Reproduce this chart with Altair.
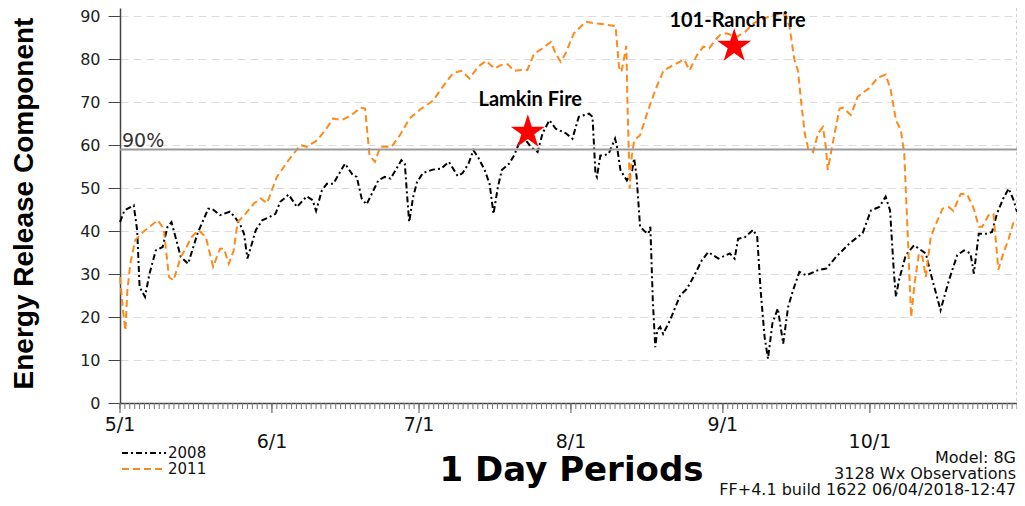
import altair as alt
import pandas as pd

# ---------------- data ----------------
days_2008 = [0, 0.9, 2.8, 3.5, 4.0, 5.1, 6.0, 7.3, 8.7, 9.7, 10.5, 12.4, 13.9, 15.8, 18.0, 18.8,
             20.4, 22.4, 23.4, 24.6, 25.3, 26.0, 26.7, 27.7, 29.0, 30.2, 31.7, 32.7, 34.4, 36.1,
             38.1, 39.3, 40.0, 41.2, 42.2, 43.5, 45.9, 47.5, 48.3, 49.3, 50.3, 52.7, 54.0, 55.2,
             56.4, 57.4, 58.1, 58.6, 59.0, 59.8, 60.6, 61.8, 63.8, 65.5, 67.1, 68.9, 69.9, 71.1,
             72.1, 73.0, 74.4, 75.4, 76.2, 77.1, 77.9, 79.4, 80.4, 81.5, 82.8, 83.8, 85.2, 86.2,
             87.6, 88.9, 90.9, 92.3, 93.6, 95.7, 96.4, 97.0, 97.3, 98.0, 98.7, 99.7, 101.0, 101.4,
             102.1, 103.4, 104.5, 104.9, 105.4, 106.1, 107.2, 107.8, 108.2, 108.7, 109.2, 109.6,
             110.2, 110.8, 112.2, 114.3, 115.6, 117.0, 118.7, 120.0, 121.0, 122.1, 124.4, 125.4,
             126.1, 127.5, 129.2, 130.0, 130.7, 131.5, 132.2, 133.1, 134.2, 135.3, 136.3, 137.3,
             138.6, 140.0, 142.4, 144.1, 146.1, 148.8, 151.5, 153.2, 154.9, 156.2, 157.1, 157.9,
             158.3, 158.9, 160.3, 162.0, 163.0, 164.4, 165.4, 167.4, 169.1, 170.8, 172.2, 173.5,
             174.2, 175.2, 176.9, 177.9, 178.9, 180.2, 181.3, 182.3, 183.0]
erc_2008 = [42.1, 44.8, 46.0, 40.2, 27.0, 24.7, 30.0, 35.5, 36.3, 41.0, 42.1, 34.0, 32.4, 39.4, 45.2, 45.2,
            43.7, 44.5, 43.3, 41.3, 39.4, 33.6, 36.3, 40.2, 42.5, 43.1, 44.0, 46.8, 48.5, 45.6,
            48.1, 47.2, 44.7, 49.5, 51.0, 51.0, 55.7, 53.0, 52.6, 47.6, 46.2, 51.8, 52.6, 52.2,
            54.5, 56.5, 55.7, 47.9, 42.1, 47.9, 51.4, 53.5, 54.3, 54.5, 56.1, 52.8, 53.5, 55.7,
            58.8, 57.3, 54.2, 51.0, 44.0, 50.3, 54.2, 55.7, 57.6, 60.7, 61.1, 59.6, 58.4, 62.7,
            65.8, 63.8, 62.8, 61.5, 66.6, 67.3, 66.6, 53.4, 52.6, 57.6, 57.6, 58.0, 61.5, 59.6,
            54.2, 51.8, 54.2, 56.9, 52.6, 41.0, 39.8, 39.4, 41.0, 23.9, 13.0, 16.9,
            17.7, 16.1, 19.2, 25.1, 26.5, 29.3, 33.2, 35.1, 34.4, 33.6, 34.8, 33.6,
            38.2, 38.6, 40.3, 38.6, 26.2, 15.4, 10.3, 18.5, 22.0, 13.8, 22.3, 26.2,
            30.5, 29.7, 30.9, 31.3, 34.0, 37.1, 39.5, 44.8, 45.6, 48.0, 44.8, 30.1,
            24.7, 28.5, 34.4, 36.7, 35.9, 34.8, 30.1, 21.6, 28.5, 34.4, 35.5, 34.8,
            30.1, 39.4, 39.4, 39.8, 44.0, 47.6, 49.9, 47.2, 44.5]

days_2011 = [0, 0.6, 1.1, 1.5, 2.1, 3.1, 4.3, 6.0, 7.7, 8.9, 10.0, 10.9, 12.4, 13.2, 14.6, 16.0,
             17.5, 19.0, 20.4, 21.2, 22.2, 23.2, 24.0, 25.6, 27.3, 28.7, 30.0, 32.0, 34.4, 36.8,
             38.1, 40.2, 41.9, 43.5, 45.2, 47.3, 49.0, 50.0, 50.9, 52.0, 53.1, 55.4, 57.1, 59.1,
             60.6, 61.5, 63.9, 65.6, 67.9, 69.6, 71.3, 73.0, 74.7, 76.4, 77.7, 79.1, 80.4, 81.8,
             83.1, 84.5, 85.8, 87.9, 88.9, 89.9, 90.9, 92.6, 95.0, 96.7, 98.7, 101.1, 101.8, 102.3,
             102.8, 103.3, 103.5, 104.0, 104.4, 104.9, 106.1, 107.5, 109.2, 110.9, 112.9, 115.1,
             116.2, 117.7, 119.0, 120.2, 121.4, 122.4, 123.7, 125.8, 127.5, 129.2, 131.2, 133.2,
             134.9, 135.9, 136.6, 137.6, 138.3, 139.0, 139.7, 140.4, 141.4, 142.4, 143.4, 144.0,
             144.4, 145.4, 146.8, 147.5, 149.1, 150.5, 151.8, 152.8, 154.6, 156.2, 157.2, 158.3,
             159.3, 160.0, 160.7, 161.4, 162.1, 163.0, 163.7, 164.4, 165.4, 166.4, 167.8, 169.1,
             170.0, 171.5, 172.8, 174.2, 175.2, 175.9, 177.2, 178.2, 179.2, 180.2, 181.3, 182.3,
             183.0]
erc_2011 = [29.3, 21.6, 16.9, 26.2, 32.4, 37.9, 39.4, 41.0, 42.5, 40.6, 29.3, 28.5, 34.0, 35.5, 38.6, 40.2,
            38.6, 31.7, 35.9, 35.9, 32.4, 35.5, 42.1, 44.0, 46.4, 47.6, 46.5, 52.6, 56.5, 60.0,
            59.6, 61.1, 63.5, 66.2, 65.8, 67.0, 68.7, 68.5, 57.6, 56.1, 59.6, 59.6, 62.3, 66.2,
            67.7, 68.5, 70.4, 73.2, 76.7, 77.3, 75.5, 78.2, 79.6, 77.8, 78.6, 78.8, 77.3, 77.5,
            77.5, 81.3, 82.2, 84.0, 81.3, 79.4, 81.3, 86.0, 88.7, 88.4, 88.1, 87.7, 78.2, 77.0,
            80.0, 83.1, 71.2, 49.9, 57.3, 61.1, 62.3, 67.3, 72.8, 77.4, 78.6, 79.9,
            77.4, 80.9, 82.9, 82.5, 84.4, 85.6, 86.0, 85.2, 86.3, 88.3, 89.4, 90.2,
            90.6, 90.2, 87.5, 79.8, 77.4, 69.7, 62.7, 59.2, 58.4, 62.7, 64.2, 59.6,
            54.2, 60.4, 68.5, 68.7, 67.0, 71.2, 72.4, 73.2, 75.7, 76.4, 73.0, 65.8,
            63.5, 58.0, 39.4, 20.0, 27.8, 34.8, 34.0, 29.3, 38.6, 41.5, 45.2, 45.6,
            44.7, 48.6, 48.6, 45.2, 41.0, 41.0, 43.7, 44.0, 31.0, 34.8, 38.2, 42.1,
            42.5]

years = ["2008", "2011"]
line_colors = ["#000000", "#ff8a1c"]
line_dashes = [[6, 3, 2, 3], [7, 4]]
month_days = [0, 31, 61, 92, 123, 153]
month_labels = ["5/1", "6/1", "7/1", "8/1", "9/1", "10/1"]
last_day = 183
all_days = list(range(last_day + 1))
y_ticks = [0, 10, 20, 30, 40, 50, 60, 70, 80, 90]
threshold = [59]
threshold_label = "90%"
fire_names = ["Lamkin Fire", "101-Ranch Fire"]
fire_days = [83.2, 125.3]
fire_erc = [63.0, 83.0]
fire_label_days = [83.7, 126.0]
fire_label_erc = [70.4, 88.8]
info_lines = ["Model: 8G", "3128 Wx Observations", "FF+4.1 build 1622 06/04/2018-12:47"]

# ---------------- tables ----------------
lines_df = pd.concat([
    pd.DataFrame({"day": days_2008, "erc": erc_2008, "year": years[0]}),
    pd.DataFrame({"day": days_2011, "erc": erc_2011, "year": years[1]}),
])
thr_df = pd.DataFrame({"erc": threshold, "label": [threshold_label]})
stars_df = pd.DataFrame({"day": fire_days, "erc": fire_erc})
labels_df = pd.DataFrame({"day": fire_label_days, "erc": fire_label_erc, "name": fire_names})
months_df = pd.DataFrame({"day": month_days, "label": month_labels,
                          "row": [i % 2 for i in range(len(month_days))]})
days_df = pd.DataFrame({"day": all_days})

W, H = 897, 395
xscale = alt.Scale(domain=[0, last_day], nice=False, zero=False)
yscale = alt.Scale(domain=[0, 91.9], nice=False)
cscale = alt.Scale(domain=years, range=line_colors)
dscale = alt.Scale(domain=years, range=line_dashes)

lines = alt.Chart(lines_df).mark_line(strokeWidth=2).encode(
    x=alt.X("day:Q", scale=xscale, axis=alt.Axis(
        ticks=False, labels=False, domainColor="#444", domainWidth=1.5, grid=False,
        title="1 Day Periods", titleFont="DejaVu Sans", titleFontSize=34, titleFontWeight="bold",
        titleColor="#000", titleX=451, titleY=67, titleAlign="center", titleBaseline="middle")),
    y=alt.Y("erc:Q", scale=yscale, axis=alt.Axis(
        values=y_ticks, tickSize=12, tickColor="#444", domainColor="#444", domainWidth=1.5,
        labelFont="DejaVu Sans", labelFontSize=16, labelColor="#222", labelPadding=8,
        grid=True, gridColor="#dcdcdc", gridDash=[8, 5], gridWidth=1,
        title="Energy Release Component", titleFont="Liberation Sans", titleFontSize=28,
        titleFontWeight="bold", titleColor="#000", titleAngle=270, titleX=-96, titleY=195,
        titleAlign="center", titleBaseline="middle")),
    color=alt.Color("year:N", scale=cscale, legend=None),
    strokeDash=alt.StrokeDash("year:N", scale=dscale, legend=None),
)

thr_rule = alt.Chart(thr_df).mark_rule(color="#9a9a9a", strokeWidth=2).encode(
    y=alt.Y("erc:Q"))
thr_text = alt.Chart(thr_df).mark_text(align="left", baseline="alphabetic", dy=-2,
                                       font="DejaVu Sans", fontSize=19, color="#333").encode(
    x=alt.value(2), y=alt.Y("erc:Q"), text="label:N")

stars = alt.Chart(stars_df).mark_point(
    shape="M0,-1L0.2245,-0.309L0.9511,-0.309L0.3633,0.118L0.5878,0.809L0,0.382L-0.5878,0.809L-0.3633,0.118L-0.9511,-0.309L-0.2245,-0.309Z",
    filled=True, size=1280, color="#ff0000", opacity=1, strokeWidth=0).encode(
    x=alt.X("day:Q"), y=alt.Y("erc:Q"))

fire_text = alt.Chart(labels_df).mark_text(font="Lato", fontWeight="bold", fontSize=20,
                                           color="#000", baseline="middle").encode(
    x=alt.X("day:Q"), y=alt.Y("erc:Q"), text="name:N")

# day ticks along the x axis, longer at each month start
minor_ticks = alt.Chart(days_df).mark_rule(color="#777", strokeWidth=1).encode(
    x=alt.X("day:Q"), y=alt.value(H), y2=alt.value(H + 6))
major_ticks = alt.Chart(months_df).mark_rule(color="#555", strokeWidth=1).encode(
    x=alt.X("day:Q"), y=alt.value(H), y2=alt.value(H + 10))
month_row1 = alt.Chart(months_df).transform_filter("datum.row == 0").mark_text(
    baseline="top", align="center", font="DejaVu Sans", fontSize=19, color="#111").encode(
    x=alt.X("day:Q"), y=alt.value(H + 13), text="label:N")
month_row2 = alt.Chart(months_df).transform_filter("datum.row == 1").mark_text(
    baseline="top", align="center", font="DejaVu Sans", fontSize=19, color="#111").encode(
    x=alt.X("day:Q"), y=alt.value(H + 30), text="label:N")

right_edge = alt.Chart(alt.Data(values=[{}])).mark_rule(
    color="#cfcfcf", strokeDash=[3, 3], strokeWidth=1).encode(
    x=alt.value(W - 0.5), y=alt.value(0), y2=alt.value(H))

info = alt.Chart(alt.Data(values=[{}])).mark_text(
    text=info_lines, align="right", baseline="top", lineHeight=16,
    font="DejaVu Sans", fontSize=16, color="#111").encode(
    x=alt.value(W - 1), y=alt.value(442))

# hand-built legend (bottom left)
legend_layers = []
for i, yr in enumerate(years):
    row_y = 445 + 16 * i
    ldf = pd.DataFrame({"year": [yr]})
    legend_layers.append(alt.Chart(ldf).mark_rule(strokeWidth=2).encode(
        x=alt.value(2), x2=alt.value(46), y=alt.value(row_y),
        color=alt.Color("year:N", scale=cscale, legend=None),
        strokeDash=alt.StrokeDash("year:N", scale=dscale, legend=None)))
    legend_layers.append(alt.Chart(ldf).mark_text(
        align="left", baseline="middle", font="DejaVu Sans", fontSize=15, color="#111").encode(
        x=alt.value(48), y=alt.value(row_y), text="year:N"))

chart = alt.layer(lines, right_edge, thr_rule, thr_text, minor_ticks, major_ticks,
                  month_row1, month_row2, stars, fire_text, info, *legend_layers).properties(
    width=W, height=H,
    autosize=alt.AutoSizeParams(type="none"),
    padding={"left": 112, "top": 0, "right": 0, "bottom": 95},
).configure_view(stroke=None)

chart.save("out.html", embed_options={"renderer": "svg", "actions": False})
